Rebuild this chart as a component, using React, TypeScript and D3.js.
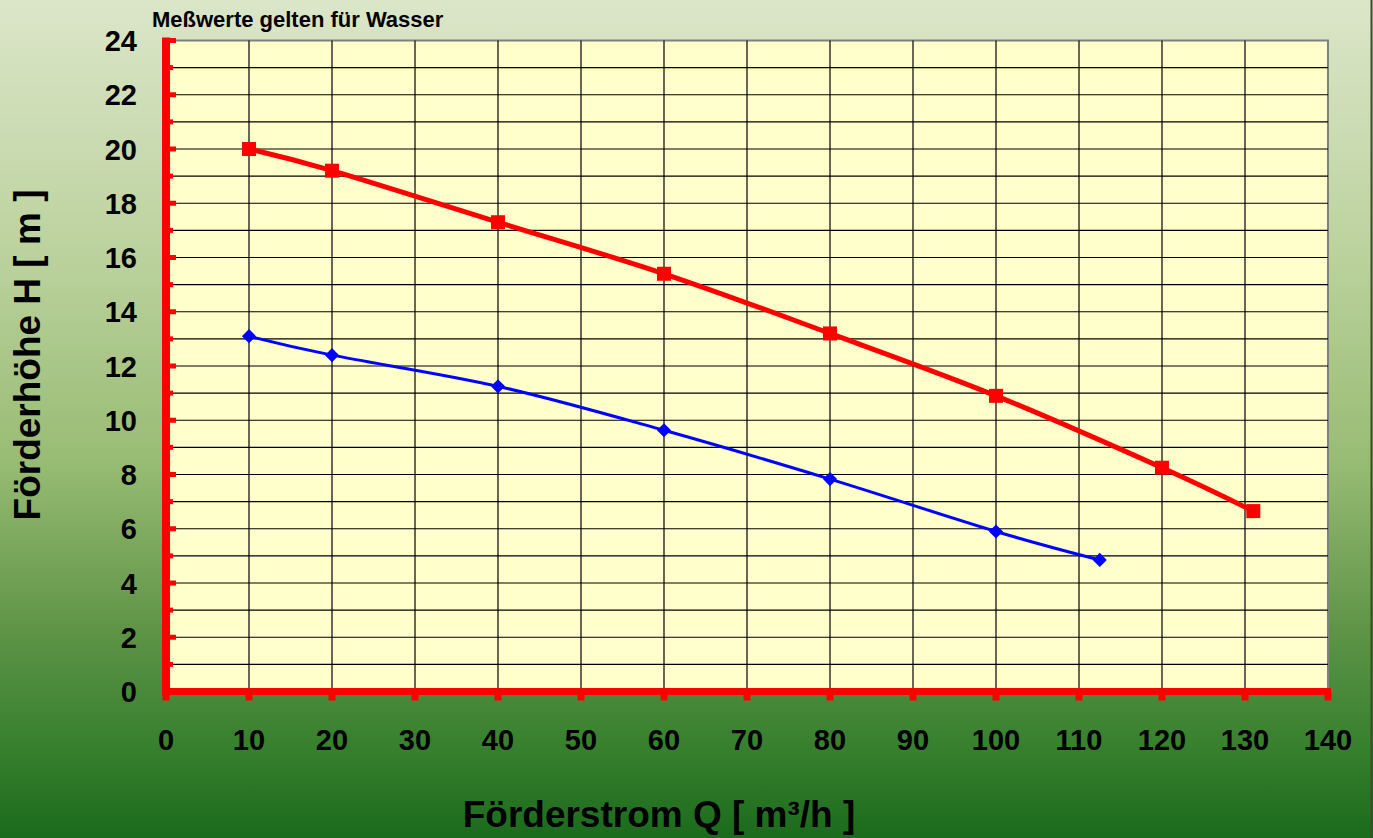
import { useRef, useEffect } from "react"
import * as d3 from "d3"

// Kennlinien (Q in m³/h, H in m)
const redQ = [10, 20, 40, 60, 80, 100, 120, 131]
const redH = [20, 19.2, 17.3, 15.4, 13.2, 10.9, 8.25, 6.65]
const blueQ = [10, 20, 40, 60, 80, 100, 112.5]
const blueH = [13.1, 12.4, 11.25, 9.63, 7.83, 5.9, 4.85]

const xTicks = d3.range(0, 141, 10)
const yTicks = d3.range(0, 25, 2)
const yGrid = d3.range(1, 24, 1)

const W = 1373
const H = 838

export default function App() {
  const svgRef = useRef<SVGSVGElement>(null)

  useEffect(() => {
    document.body.style.margin = "0"
    if (!svgRef.current) return
    const svg = d3.select(svgRef.current)
    svg.selectAll("*").remove()

    const x = d3.scaleLinear().domain([0, 140]).range([166, 1328])
    const y = d3.scaleLinear().domain([0, 24]).range([691.5, 40.5])
    const font = "'Liberation Sans', Arial, sans-serif"

    // Background gradient
    const defs = svg.append("defs")
    const grad = defs
      .append("linearGradient")
      .attr("id", "bg")
      .attr("x1", 0)
      .attr("y1", 0)
      .attr("x2", 0)
      .attr("y2", 1)
    const stops: [number, string][] = [
      [0, "#dbe6c9"],
      [0.3, "#bcd29e"],
      [0.55, "#98bc74"],
      [0.75, "#5f9447"],
      [0.88, "#3a8230"],
      [1, "#1b6b1c"],
    ]
    stops.forEach(([o, c]) => grad.append("stop").attr("offset", o).attr("stop-color", c))
    svg.append("rect").attr("width", W).attr("height", H).attr("fill", "url(#bg)")
    svg
      .append("line")
      .attr("x1", W - 1.5)
      .attr("x2", W - 1.5)
      .attr("y1", 0)
      .attr("y2", H)
      .attr("stroke", "#3d4a30")
      .attr("stroke-width", 2)

    // Plot area
    svg
      .append("rect")
      .attr("x", x(0))
      .attr("y", y(24))
      .attr("width", x(140) - x(0))
      .attr("height", y(0) - y(24))
      .attr("fill", "#ffffcc")
      .attr("stroke", "#808080")
      .attr("stroke-width", 2)

    const g = svg.append("g")
    g.selectAll(".hg")
      .data(yGrid)
      .enter()
      .append("line")
      .attr("x1", x(0))
      .attr("x2", x(140))
      .attr("y1", (d) => y(d))
      .attr("y2", (d) => y(d))
      .attr("stroke", "#000")
      .attr("stroke-width", 1.2)
    g.selectAll(".vg")
      .data(xTicks.slice(1, -1))
      .enter()
      .append("line")
      .attr("x1", (d) => x(d))
      .attr("x2", (d) => x(d))
      .attr("y1", y(24))
      .attr("y2", y(0))
      .attr("stroke", "#000")
      .attr("stroke-width", 1.2)

    // Axes (red)
    const red = "#ff0000"
    g.selectAll(".yt")
      .data(d3.range(0, 25, 1))
      .enter()
      .append("line")
      .attr("x1", x(0))
      .attr("x2", (d) => x(0) + (d % 2 === 0 ? 10 : 7))
      .attr("y1", (d) => y(d))
      .attr("y2", (d) => y(d))
      .attr("stroke", red)
      .attr("stroke-width", 5)
    g.selectAll(".xt")
      .data(xTicks)
      .enter()
      .append("line")
      .attr("x1", (d) => x(d))
      .attr("x2", (d) => x(d))
      .attr("y1", y(0))
      .attr("y2", y(0) + 9)
      .attr("stroke", red)
      .attr("stroke-width", 7)
    g.append("line")
      .attr("x1", x(0))
      .attr("x2", x(0))
      .attr("y1", y(24) - 3)
      .attr("y2", y(0) + 4)
      .attr("stroke", red)
      .attr("stroke-width", 8)
    g.append("line")
      .attr("x1", x(0) - 4)
      .attr("x2", x(140) + 3)
      .attr("y1", y(0))
      .attr("y2", y(0))
      .attr("stroke", red)
      .attr("stroke-width", 7)

    // Tick labels
    svg
      .selectAll(".yl")
      .data(yTicks)
      .enter()
      .append("text")
      .attr("x", 137)
      .attr("y", (d) => y(d) + 10.5)
      .attr("text-anchor", "end")
      .attr("font-family", font)
      .attr("font-weight", "bold")
      .attr("font-size", 29)
      .text((d) => d)
    svg
      .selectAll(".xl")
      .data(xTicks)
      .enter()
      .append("text")
      .attr("x", (d) => x(d))
      .attr("y", 750)
      .attr("text-anchor", "middle")
      .attr("font-family", font)
      .attr("font-weight", "bold")
      .attr("font-size", 29)
      .text((d) => d)

    // Titles
    svg
      .append("text")
      .attr("x", 152)
      .attr("y", 27)
      .attr("font-family", font)
      .attr("font-weight", "bold")
      .attr("font-size", 22)
      .text("Meßwerte gelten für Wasser")
    svg
      .append("text")
      .attr("x", 659)
      .attr("y", 827)
      .attr("text-anchor", "middle")
      .attr("font-family", font)
      .attr("font-weight", "bold")
      .attr("font-size", 37)
      .text("Förderstrom Q [ m³/h ]")
    svg
      .append("text")
      .attr("transform", "translate(40,355) rotate(-90)")
      .attr("text-anchor", "middle")
      .attr("font-family", font)
      .attr("font-weight", "bold")
      .attr("font-size", 37)
      .text("Förderhöhe H [ m ]")

    // Curves
    const line = d3
      .line<[number, number]>()
      .x((d) => x(d[0]))
      .y((d) => y(d[1]))
      .curve(d3.curveCatmullRom.alpha(0))

    const redPts = redQ.map((q, i) => [q, redH[i]] as [number, number])
    const bluePts = blueQ.map((q, i) => [q, blueH[i]] as [number, number])

    g.append("path")
      .attr("d", line(bluePts))
      .attr("fill", "none")
      .attr("stroke", "#0000ff")
      .attr("stroke-width", 3)
    g.selectAll(".bm")
      .data(bluePts)
      .enter()
      .append("rect")
      .attr("x", -5)
      .attr("y", -5)
      .attr("width", 10)
      .attr("height", 10)
      .attr("fill", "#0000ff")
      .attr("transform", (d) => `translate(${x(d[0])},${y(d[1])}) rotate(45)`)

    g.append("path")
      .attr("d", line(redPts))
      .attr("fill", "none")
      .attr("stroke", red)
      .attr("stroke-width", 5)
    g.selectAll(".rm")
      .data(redPts)
      .enter()
      .append("rect")
      .attr("x", (d) => x(d[0]) - 7)
      .attr("y", (d) => y(d[1]) - 7)
      .attr("width", 14)
      .attr("height", 14)
      .attr("fill", red)
  }, [])

  return <svg ref={svgRef} width={W} height={H} style={{ display: "block" }} />
}
